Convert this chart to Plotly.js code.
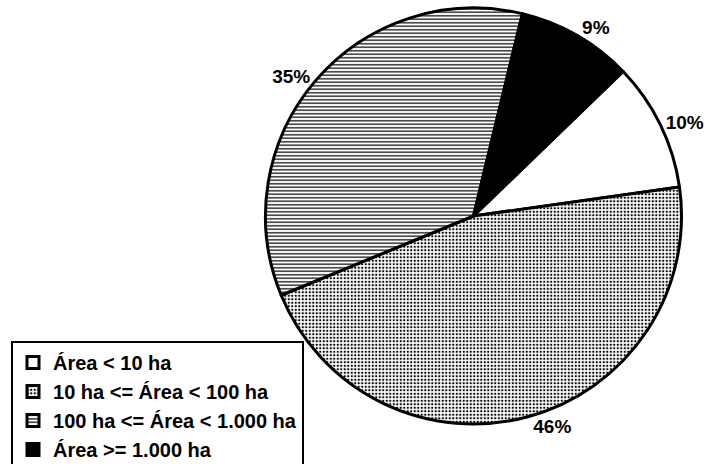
<!DOCTYPE html>
<html>
<head>
<meta charset="utf-8">
<script src="https://cdn.plot.ly/plotly-3.0.1.min.js"></script>
<style>html,body{margin:0;padding:0;background:#fff;}#chart{width:724px;height:464px;}</style>
</head>
<body>
<div id="chart"></div>
<script>
const categories = ['Área < 10 ha', '10 ha <= Área < 100 ha', '100 ha <= Área < 1.000 ha', 'Área >= 1.000 ha'];
const shares = [10, 46, 35, 9];
const fillColors = ['#ffffff', '#ffffff', '#ffffff', '#000000'];
const patternShapes = ['', '.', '-', ''];

const trace = {
  type: 'pie',
  labels: categories,
  values: shares,
  sort: false,
  direction: 'clockwise',
  rotation: 46,
  textinfo: 'percent',
  textposition: 'outside',
  hoverinfo: 'label+percent',
  outsidetextfont: {family: '"Liberation Sans", Arial, sans-serif', size: 19, color: '#000', weight: 'bold'},
  marker: {
    colors: fillColors,
    line: {color: '#000', width: 3},
    pattern: {
      shape: patternShapes,
      fgcolor: '#000000',
      bgcolor: fillColors,
      size: 3.5,
      solidity: 0.35,
      fillmode: 'replace'
    }
  },
  domain: {x: [0.3667, 0.9413], y: [0.0862, 0.9828]}
};

const layout = {
  width: 724, height: 464,
  margin: {l: 0, r: 0, t: 0, b: 0, autoexpand: false},
  paper_bgcolor: '#fff',
  showlegend: true,
  legend: {
    x: 0.0152, xanchor: 'left', y: 0.2650, yanchor: 'top',
    bordercolor: '#000', borderwidth: 2, bgcolor: '#fff',
    font: {family: '"Liberation Sans", Arial, sans-serif', size: 20, color: '#000', weight: 'bold'},
    tracegroupgap: 0
  }
};

Plotly.newPlot('chart', [trace], layout, {displayModeBar: false, staticPlot: true});
</script>
</body>
</html>
